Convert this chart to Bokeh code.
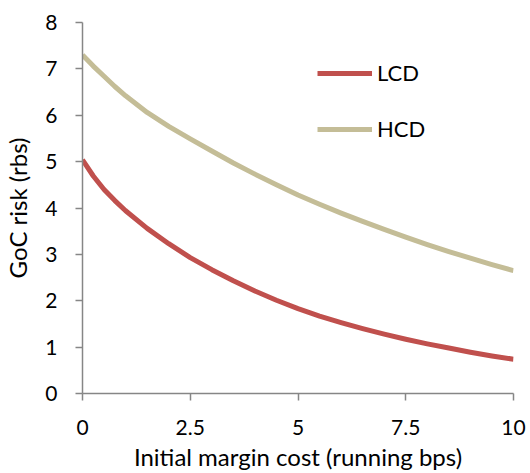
from bokeh.plotting import figure
from bokeh.models import FixedTicker, Legend, LegendItem, Range1d
from bokeh.embed import file_html
from bokeh.resources import INLINE

x_vals = [0, 0.25, 0.5, 0.75, 1, 1.5, 2, 2.5, 3, 3.5, 4, 4.5, 5, 5.5, 6, 6.5, 7, 7.5, 8, 8.5, 9, 9.5, 10]
lcd = [5.04, 4.69, 4.40, 4.16, 3.94, 3.56, 3.23, 2.93, 2.67, 2.43, 2.21, 2.01, 1.83, 1.67, 1.53, 1.40, 1.28, 1.17, 1.07, 0.98, 0.89, 0.81, 0.74]
hcd = [7.30, 7.06, 6.84, 6.62, 6.42, 6.06, 5.76, 5.49, 5.23, 4.97, 4.73, 4.50, 4.28, 4.08, 3.89, 3.71, 3.54, 3.37, 3.21, 3.06, 2.92, 2.78, 2.65]
x_ticks = [0, 2.5, 5, 7.5, 10]
y_ticks = [0, 1, 2, 3, 4, 5, 6, 7, 8]

FONT = "Lato"
AXIS_COLOR = "#868686"
FS = "21px"
FS_LABEL = "24px"

p = figure(width=530, height=473, output_backend="svg", toolbar_location=None,
           x_range=Range1d(0, 10), y_range=Range1d(0, 8),
           min_border_left=81, min_border_right=17, min_border_top=22, min_border_bottom=80)
p.outline_line_color = None
p.xgrid.visible = False
p.ygrid.visible = False

r1 = p.line(x_vals, lcd, line_color="#C0504D", line_width=5, line_join="round")
r2 = p.line(x_vals, hcd, line_color="#C4BD97", line_width=5, line_join="round")

for ax in (p.xaxis[0], p.yaxis[0]):
    ax.axis_line_color = AXIS_COLOR
    ax.axis_line_width = 1.5
    ax.major_tick_line_color = AXIS_COLOR
    ax.major_tick_line_width = 1.5
    ax.major_tick_out = 7
    ax.major_tick_in = 0
    ax.minor_tick_line_color = None
    ax.major_label_text_font = FONT
    ax.major_label_text_font_size = FS
    ax.major_label_text_color = "#000000"
    ax.axis_label_text_font = FONT
    ax.axis_label_text_font_size = FS_LABEL
    ax.axis_label_text_font_style = "normal"
    ax.axis_label_text_color = "#000000"

p.xaxis.ticker = FixedTicker(ticks=x_ticks)
p.yaxis.ticker = FixedTicker(ticks=y_ticks)
p.xaxis.major_label_standoff = 19
p.yaxis.major_label_standoff = 18
p.xaxis.axis_label = "Initial margin cost (running bps)"
p.yaxis.axis_label = "GoC risk (rbs)"
p.xaxis.axis_label_standoff = 4
p.yaxis.axis_label_standoff = 10

legend = Legend(items=[LegendItem(label="LCD", renderers=[r1]),
                       LegendItem(label="HCD", renderers=[r2])],
                location=(235, 251), orientation="vertical",
                glyph_width=55, glyph_height=20, label_height=20,
                label_standoff=5, spacing=29, padding=0, margin=0,
                border_line_color=None, background_fill_alpha=0,
                label_text_font=FONT, label_text_font_size="22px",
                label_text_color="#000000")
p.add_layout(legend, "center")

open("out.html", "w").write(file_html(p, INLINE))
